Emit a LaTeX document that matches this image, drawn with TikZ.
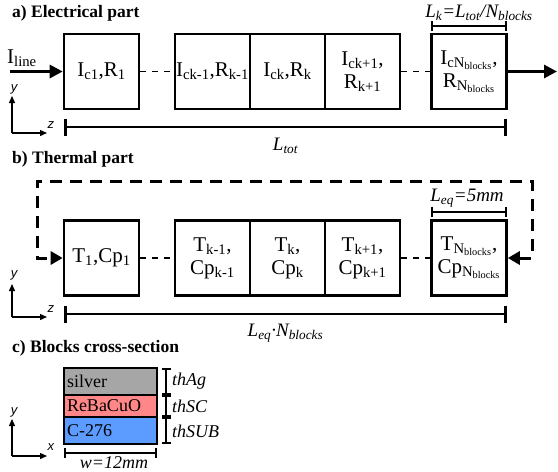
\documentclass[tikz,border=0pt]{standalone}
\usepackage{fontspec}
\setmainfont{Liberation Serif}
\setsansfont{Liberation Sans}
\usetikzlibrary{arrows.meta}
\newcommand\sbx[1]{\textsubscript{#1}}
\definecolor{silvc}{HTML}{A6A6A6}
\definecolor{scc}{HTML}{FF8787}
\definecolor{subc}{HTML}{5C9BFF}
\begin{document}
\begin{tikzpicture}[x=1pt,y=-1pt,
 blk/.style={draw,line width=2.6pt,minimum width=75pt,minimum height=75pt,inner sep=0pt,align=center,font=\fontsize{21}{23}\selectfont},
 ttl/.style={anchor=west,font=\bfseries\fontsize{17.5}{20}\selectfont,inner sep=0pt},
 conn/.style={line width=1.6pt,dash pattern=on 6pt off 6pt},
 bigarrow/.style={line width=3pt,-{Triangle[length=13pt,width=13pt]}},
 loopline/.style={line width=3pt,dash pattern=on 12pt off 8pt,{Triangle[length=12pt,width=13pt]}-{Triangle[length=12pt,width=13pt]}},
 dimline/.style={line width=2.6pt,{Bar[width=17pt]}-{Bar[width=17pt]}},
 smalldim/.style={line width=2.4pt,{Bar[width=10pt]}-{Bar[width=10pt]}},
 axis/.style={line width=1.3pt,-{Triangle[length=7pt,width=6pt]}},
 axl/.style={font=\sffamily\itshape\fontsize{13}{13}\selectfont,inner sep=0pt},
 lab/.style={font=\itshape\fontsize{19}{21}\selectfont,inner sep=0pt},
 layer/.style={draw,line width=2.4pt,minimum width=93pt,text width=87pt,align=left,inner sep=3pt,font=\fontsize{18}{20}\selectfont},
]
\useasboundingbox (0,0) rectangle (558,472);
% titles
\node[ttl] (ta) at (12,13) {a) Electrical part};
\node[ttl] (tb) at (12,159) {b) Thermal part};
\node[ttl] (tc) at (12,348) {c) Blocks cross-section};
% electrical blocks
\node[blk] (e1) at (101.5,71.5) {I\sbx{c1},R\sbx{1}};
\node[blk] (e2) at (212.5,71.5) {I\sbx{ck-1},R\sbx{k-1}};
\node[blk] (e3) at (287.5,71.5) {I\sbx{ck},R\sbx{k}};
\node[blk] (e4) at (362.5,71.5) {I\sbx{ck+1},\\R\sbx{k+1}};
\node[blk] (e5) at (469,71.5) {I\sbx{cN\sbx{blocks}},\\R\sbx{N\sbx{blocks}}};
\draw[conn] (e1) -- (e2);
\draw[conn] (e4) -- (e5);
\coordinate (ein) at (10,71.5);
\coordinate (eout) at (557,71.5);
\draw[bigarrow] (ein) -- (e1);
\draw[bigarrow] (e5) -- (eout);
\node[anchor=base west,inner sep=0pt,font=\fontsize{21}{23}\selectfont] (iline) at (7,63) {I\sbx{line}};
% axes a
\coordinate (oa) at (12,133);
\draw[axis] (oa) -- ++(0,-37);
\draw[axis] (oa) -- ++(35,0);
\node[axl] (ya) at (14,89) {y};
\node[axl] (za) at (51,125) {z};
% dims a
\coordinate (la1) at (64,127);
\coordinate (la2) at (507,127);
\draw[dimline] (la1) -- (la2);
\node[lab] (ltot) at (285.5,146) {L\sbx{tot}};
\coordinate (lk1) at (431,26);
\coordinate (lk2) at (507,26);
\draw[smalldim] (lk1) -- (lk2);
\node[lab] (lk) at (479,13) {L\sbx{k}=L\sbx{tot}/N\sbx{blocks}};
% thermal blocks
\node[blk] (t1) at (101.5,258) {T\sbx{1},Cp\sbx{1}};
\node[blk] (t2) at (212.5,258) {T\sbx{k-1},\\Cp\sbx{k-1}};
\node[blk] (t3) at (287.5,258) {T\sbx{k},\\Cp\sbx{k}};
\node[blk] (t4) at (362.5,258) {T\sbx{k+1},\\Cp\sbx{k+1}};
\node[blk] (t5) at (469,258) {T\sbx{N\sbx{blocks}},\\Cp\sbx{N\sbx{blocks}}};
\draw[conn] (t1) -- (t2);
\draw[conn] (t4) -- (t5);
\coordinate (r1) at (532,258);
\coordinate (r2) at (532,181);
\coordinate (l2) at (37,181);
\coordinate (l1) at (37,258);
\draw[loopline] (t5.east) -- (r1) -- (r2) -- (l2) -- (l1) -- (t1.west);
% axes b
\coordinate (ob) at (12,317);
\draw[axis] (ob) -- ++(0,-33);
\draw[axis] (ob) -- ++(35,0);
\node[axl] (yb) at (14,275) {y};
\node[axl] (zb) at (51,309) {z};
% dims b
\coordinate (lb1) at (64,314);
\coordinate (lb2) at (507,314);
\draw[dimline] (lb1) -- (lb2);
\node[lab] (leqn) at (285.5,333) {L\sbx{eq}·N\sbx{blocks}};
\coordinate (le1) at (431,212);
\coordinate (le2) at (507,212);
\draw[smalldim] (le1) -- (le2);
\node[lab] (leq) at (467,198) {L\sbx{eq}=5mm};
% cross-section
\node[layer,fill=silvc,minimum height=27pt] (ag) at (110.5,381.5) {silver};
\node[layer,fill=scc,minimum height=22pt] (sc) at (110.5,406) {ReBaCuO};
\node[layer,fill=subc,minimum height=27pt] (sub) at (110.5,430.5) {C-276};
\coordinate (d1) at (166,368);
\coordinate (d2) at (166,395);
\coordinate (d3) at (166,417);
\coordinate (d4) at (166,444);
\draw[line width=2.4pt,{Bar[width=9pt]}-{Bar[width=9pt]}] (d1) -- (d2);
\draw[line width=2.4pt,{Bar[width=9pt]}-{Bar[width=9pt]}] (d2) -- (d3);
\draw[line width=2.4pt,{Bar[width=9pt]}-{Bar[width=9pt]}] (d3) -- (d4);
\node[lab,anchor=west,font=\itshape\fontsize{18}{20}\selectfont] (thag) at (172,381) {thAg};
\node[lab,anchor=west,font=\itshape\fontsize{18}{20}\selectfont] (thsc) at (172,406) {thSC};
\node[lab,anchor=west,font=\itshape\fontsize{18}{20}\selectfont] (thsub) at (172,431) {thSUB};
\coordinate (w1) at (64,453);
\coordinate (w2) at (157,453);
\draw[smalldim] (w1) -- (w2);
\node[lab,font=\itshape\fontsize{18}{20}\selectfont] (wl) at (114,463) {w=12mm};
% axes c
\coordinate (oc) at (12,456);
\draw[axis] (oc) -- ++(0,-37);
\draw[axis] (oc) -- ++(35,0);
\node[axl] (yc) at (14,412) {y};
\node[axl] (xc) at (51,447) {x};
\end{tikzpicture}
\end{document}
